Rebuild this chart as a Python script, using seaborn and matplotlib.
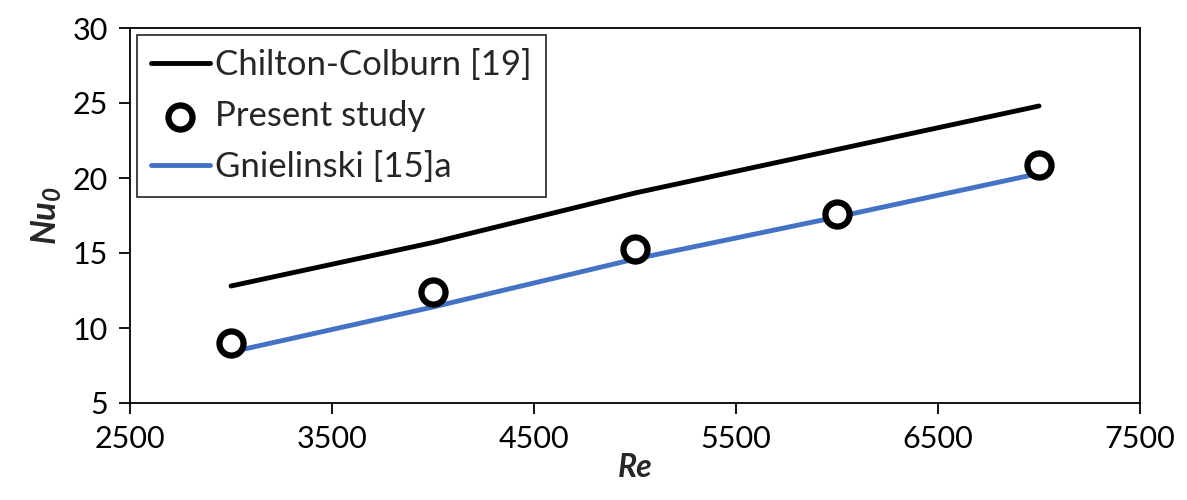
import numpy as np
import pandas as pd
import seaborn as sns
import matplotlib.pyplot as plt

re_vals = [3000, 4000, 5000, 6000, 7000]
chilton = [12.8, 15.7, 19.0, 21.9, 24.8]
present = [9.0, 12.4, 15.3, 17.6, 20.9]
gnielinski = [8.4, 11.4, 14.6, 17.4, 20.3]

sns.set_style('white')
plt.rcParams['font.family'] = ['Lato', 'DejaVu Sans']
plt.rcParams['mathtext.fontset'] = 'custom'
plt.rcParams['mathtext.it'] = 'Lato:italic:bold'
plt.rcParams['mathtext.rm'] = 'Lato:italic:bold'

fig = plt.figure(figsize=(11.87, 5), dpi=100)
ax = fig.add_axes([130 / 1187, 1 - 403 / 500, 1010 / 1187, 375 / 500])

sns.lineplot(x=re_vals, y=chilton, color='black', lw=3.5, ax=ax, label='Chilton-Colburn [19]')
sns.scatterplot(x=re_vals, y=present, s=300, facecolor='white', edgecolor='black',
                linewidth=4.5, ax=ax, label='Present study', zorder=5)
sns.lineplot(x=re_vals, y=gnielinski, color='#4472C4', lw=3.5, ax=ax, label='Gnielinski [15]a')

ax.set_xlim(2500, 7500)
ax.set_ylim(5, 30)
ax.set_xticks(np.arange(2500, 7501, 1000))
ax.set_yticks(np.arange(5, 31, 5))
ax.tick_params(axis='both', labelsize=22, length=8, width=1.3, direction='out',
               bottom=True, left=True, pad=8, colors='black')
for s in ax.spines.values():
    s.set_color('black')
    s.set_linewidth(1.3)

ax.set_xlabel('Re', fontsize=23, fontweight='bold', style='italic', labelpad=0)
ax.set_ylabel(r'$Nu_0$', fontsize=25, labelpad=6)

leg = ax.legend(loc='upper left', fontsize=25, frameon=True, fancybox=False,
                edgecolor='black', borderaxespad=0.2, handlelength=1.7,
                handletextpad=0.15, labelspacing=0.55, borderpad=0.4)
leg.get_frame().set_linewidth(1.3)

fig.savefig('out.png', dpi=100)
